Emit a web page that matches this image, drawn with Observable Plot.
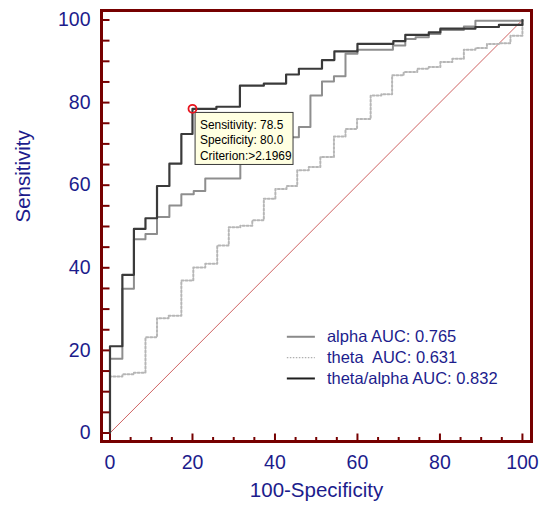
<!DOCTYPE html>
<html><head><meta charset="utf-8">
<script src="https://cdn.jsdelivr.net/npm/d3@7"></script>
<script src="https://cdn.jsdelivr.net/npm/@observablehq/plot@0.6"></script>
<style>
html,body{margin:0;padding:0;background:#fff;}
svg text{white-space:pre;}
</style></head><body><div id="chart"></div>
<script>
// ---- data ----
const seriesNames = ["alpha", "theta", "theta/alpha"];
const legendLabels = ["alpha AUC: 0.765", "theta  AUC: 0.631", "theta/alpha AUC: 0.832"];

// operating points: 100-Specificity (x) and Sensitivity (y)
const alphaFpr = [0, 0, 3, 5.8, 8.6, 11.4, 14.4, 17.3, 20.3, 23.1, 31.6, 37, 42, 45.8, 48.6, 51.4, 54.3, 57.1, 60, 68.6, 71.6, 74.1, 77.3, 80.1, 85.8, 88.6, 100];
const alphaTpr = [0, 18, 34.9, 46.9, 48.2, 52.3, 55.1, 57.8, 58.6, 61.6, 66, 69, 71.6, 74.1, 81.7, 85.1, 86.4, 91.8, 92.8, 93.8, 95.4, 95.8, 96.6, 97.6, 98.4, 99.8, 100];

const thetaFpr = [0, 0, 3, 5.8, 8.6, 11.4, 14.2, 17.3, 20.2, 23.1, 26, 28.8, 31.6, 34.5, 37.3, 40.1, 42.8, 45.4, 48.2, 51, 54.3, 57.1, 59.9, 63.2, 65.8, 68.4, 71.2, 74.5, 77.3, 80.1, 83, 85.8, 88.6, 91.4, 94.3, 97.1, 100];
const thetaTpr = [0, 13.7, 14.2, 14.6, 23.2, 27.8, 28.4, 36.9, 40.1, 41, 45.4, 49.8, 50.2, 51.5, 56.7, 59.1, 59.8, 63.6, 64.4, 66.8, 71.8, 73.6, 76, 81.7, 82, 86.6, 87.4, 88.2, 88.6, 89.8, 90.6, 92.8, 93.2, 94.2, 94.4, 96.2, 100];

const ratioFpr = [0, 0, 3, 5.8, 8.6, 11.4, 14.4, 17.3, 20, 25.8, 31.5, 37.3, 42.7, 45.8, 51.4, 54.4, 60, 68.7, 71.6, 77.3, 80.1, 88.6, 94.3, 100];
const ratioTpr = [0, 21, 38.3, 49.4, 52, 59.8, 65.2, 72.4, 78.5, 79, 84.1, 84.6, 86.8, 88.2, 90.3, 92.4, 94.2, 94.9, 96.4, 97, 97.9, 98.3, 98.8, 100];

const chance = [0, 100];
const xTickLabels = [0, 20, 40, 60, 80, 100];
const yTickLabels = [0, 20, 40, 60, 80, 100];
const minorTicks = [0,5,10,15,20,25,30,35,40,45,50,55,60,65,70,75,80,85,90,95,100];

const marker = {sensitivity: 78.5, specificity: 80.0, criterion: ">2.1969"};

// ---- styles / layout ----
const navy = "#1c1c8c";
const maroon = "#760000";
const font = "Arial, 'Liberation Sans', sans-serif";
const xDomain = [-2.06, 102.2];
const yDomain = [-2.06, 102.3];
const kx = 430 / (xDomain[1] - xDomain[0]);
const ky = 431 / (yDomain[1] - yDomain[0]);

const styles = {
  "alpha": {stroke: "#8e8e8e", strokeWidth: 2, dash: null, legendStroke: "#8a8a8a", legendWidth: 2, legendDash: null},
  "theta": {stroke: "#b6b6b6", strokeWidth: 2, dash: "2,2", legendStroke: "#b0b0b0", legendWidth: 1.2, legendDash: "1.5,1.5"},
  "theta/alpha": {stroke: "#3a3a3a", strokeWidth: 2.2, dash: null, legendStroke: "#1e1e1e", legendWidth: 2, legendDash: null}
};
const curveData = {
  "alpha": d3.zip(alphaFpr, alphaTpr),
  "theta": d3.zip(thetaFpr, thetaTpr),
  "theta/alpha": d3.zip(ratioFpr, ratioTpr)
};
const drawOrder = ["theta", "alpha", "theta/alpha"];

const legendX1 = 43, legendX2 = 49.8, legendTextX = 52.6, legendTop = 23.3, legendStep = 5.05;
const legendRows = seriesNames.map((name, i) => ({name, label: legendLabels[i], i}));

const mx = d => 100 - d.specificity;
const my = d => d.sensitivity;

const marks = [
  Plot.line(chance.map(v => [v, v]), {stroke: "#c85050", strokeWidth: 0.9}),
  ...drawOrder.map(name => Plot.line(curveData[name], {
    curve: "step-after",
    stroke: styles[name].stroke,
    strokeWidth: styles[name].strokeWidth,
    strokeDasharray: styles[name].dash
  })),
  ...legendRows.map(r => Plot.ruleY([r], {
    y: d => legendTop - d.i * legendStep,
    x1: legendX1, x2: legendX2,
    stroke: styles[r.name].legendStroke,
    strokeWidth: styles[r.name].legendWidth,
    strokeDasharray: styles[r.name].legendDash
  })),
  Plot.text(legendRows, {
    x: legendTextX, y: d => legendTop - d.i * legendStep,
    text: d => d.label, textAnchor: "start", fill: navy, fontSize: 16.5, fontFamily: font
  }),
  // tooltip at the marked criterion
  Plot.rect([marker], {
    x1: d => mx(d) + 0.75, x2: d => mx(d) + 24.5,
    y1: d => my(d) - 1.0, y2: d => my(d) - 13.6,
    fill: "#ffffe1", stroke: "#3a3a3a", strokeWidth: 1
  }),
  Plot.text([marker], {
    x: mx, y: my,
    text: d => `Sensitivity: ${d.sensitivity.toFixed(1)}\nSpecificity: ${d.specificity.toFixed(1)}\nCriterion:${d.criterion}`,
    textAnchor: "start", lineAnchor: "top", dx: 7.5, dy: 8.5,
    fontSize: 11.9, lineHeight: 1.33, fill: "#000", fontFamily: font
  }),
  Plot.dot([marker], {x: mx, y: my, r: 4, stroke: "#e8141e", strokeWidth: 1.8, fill: "none"}),
  // inward ticks
  Plot.ruleX(minorTicks, {
    y1: yDomain[0],
    y2: d => yDomain[0] + (d % 20 === 0 ? 7.5 : 4) / ky,
    stroke: maroon, strokeWidth: 2
  }),
  Plot.ruleY(minorTicks, {
    x1: xDomain[0],
    x2: xDomain[0] + 8.5 / kx,
    stroke: maroon, strokeWidth: 2
  }),
  Plot.frame({stroke: maroon, strokeWidth: 3}),
  // axis titles
  Plot.text(["100-Specificity"], {text: d => d, frameAnchor: "bottom", dy: 55.5, fontSize: 20.5, fill: navy, fontFamily: font}),
  Plot.text(["Sensitivity"], {text: d => d, frameAnchor: "left", rotate: -90, dx: -78, dy: -3.5, fontSize: 20.5, fill: navy, fontFamily: font})
];

const chart = Plot.plot({
  width: 541, height: 507,
  marginLeft: 101, marginRight: 10, marginTop: 10, marginBottom: 66,
  style: {fontFamily: font, fontSize: "19.5px", color: navy, background: "#fff", overflow: "visible"},
  x: {domain: xDomain, ticks: xTickLabels, tickSize: 0, tickPadding: 14, label: null},
  y: {domain: yDomain, ticks: yTickLabels, tickSize: 0, tickPadding: 11, label: null},
  marks
});
document.getElementById("chart").appendChild(chart);
</script>
</body></html>
